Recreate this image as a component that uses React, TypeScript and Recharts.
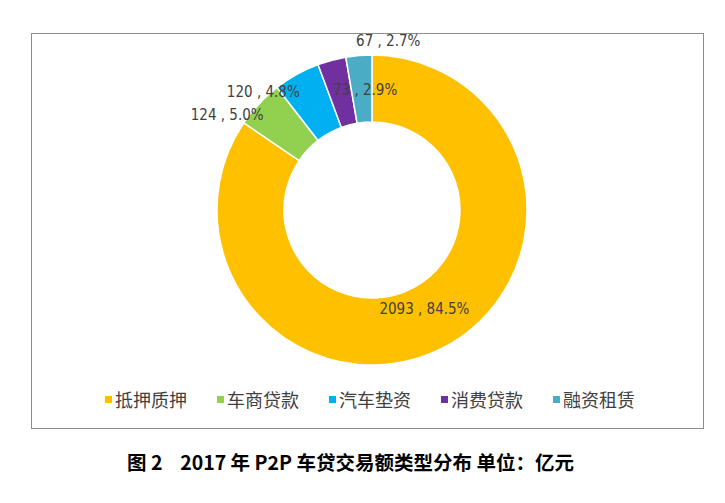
import { PieChart, Pie, Cell, Legend } from 'recharts'

// 2017 年 P2P 车贷交易额类型分布（亿元）
const categories = ['抵押质押', '车商贷款', '汽车垫资', '消费贷款', '融资租赁']
const amounts = [2093, 124, 120, 73, 67]
const shares = ['84.5%', '5.0%', '4.8%', '2.9%', '2.7%']
const colors = ['#FFC000', '#92D050', '#00B0F0', '#7030A0', '#4BACC6']

// label placement per slice: radius from centre, angle nudge (deg) + text anchor
const labelPos = [
    { r: 112, shift: 0, anchor: 'middle' },
    { r: 144, shift: 2, anchor: 'end' },
    { r: 138, shift: 2.5, anchor: 'end' },
    { r: 126, shift: 3, anchor: 'start' },
    { r: 170, shift: 0.5, anchor: 'start' },
]

const chartData = categories.map((name, i) => ({
    name,
    value: amounts[i],
    share: shares[i],
}))

const RAD = Math.PI / 180
const labelFont = '"Liberation Sans Narrow", "DejaVu Sans Condensed", "Noto Sans", sans-serif'
const cjkFont = '"Noto Sans CJK SC", "Noto Sans", sans-serif'

const renderLabel = (props: any) => {
    const { cx, cy, midAngle, index } = props
    const pos = labelPos[index]
    const a = (midAngle + pos.shift) * RAD
    const x = cx + pos.r * Math.cos(-a)
    const y = cy + pos.r * Math.sin(-a)
    return (
        <text
            x={x}
            y={y}
            textAnchor={pos.anchor}
            dominantBaseline="central"
            fill="#404040"
            fontSize={15}
            fontFamily={labelFont}
        >
            {`${amounts[index]} , ${shares[index]}`}
        </text>
    )
}

const renderLegend = () => (
    <div style={{ display: 'flex', justifyContent: 'flex-start', gap: 30, paddingLeft: 105 }}>
        {categories.map((c, i) => (
            <div key={c} style={{ display: 'flex', alignItems: 'center' }}>
                <span
                    style={{
                        display: 'inline-block',
                        width: 7,
                        height: 7,
                        background: colors[i],
                        marginRight: 3,
                    }}
                />
                <span style={{ fontSize: 18, color: '#404040', fontFamily: cjkFont, lineHeight: '22px' }}>
                    {c}
                </span>
            </div>
        ))}
    </div>
)

const App = () => {
    return (
        <div style={{ position: 'absolute', left: 0, top: 0, width: 725, height: 503, background: '#fff' }}>
            {/* chart frame */}
            <div
                style={{
                    position: 'absolute',
                    left: 31,
                    top: 33,
                    width: 671,
                    height: 394,
                    border: '1.5px solid #8c8c8c',
                }}
            />
            <div style={{ position: 'absolute', left: 0, top: 0 }}>
                <PieChart width={725} height={503}>
                    <Pie
                        data={chartData}
                        dataKey="value"
                        nameKey="name"
                        cx={367}
                        cy={205}
                        innerRadius={88}
                        outerRadius={155}
                        startAngle={90}
                        endAngle={-270}
                        stroke="#fff"
                        strokeWidth={1.5}
                        label={renderLabel}
                        labelLine={false}
                        isAnimationActive={false}
                    >
                        {chartData.map((d, i) => (
                            <Cell key={d.name} fill={colors[i]} />
                        ))}
                    </Pie>
                    <Legend
                        content={renderLegend}
                        wrapperStyle={{ position: 'absolute', left: 0, top: 388, width: 725 }}
                    />
                </PieChart>
            </div>
            <div
                style={{
                    position: 'absolute',
                    left: 127,
                    top: 448,
                    fontSize: 19.5,
                    fontWeight: 'bold',
                    color: '#000',
                    fontFamily: cjkFont,
                    whiteSpace: 'pre',
                    lineHeight: '28px',
                }}
            >
                {'图 2    2017 年 P2P 车贷交易额类型分布 单位：亿元'}
            </div>
        </div>
    )
}

export default App
